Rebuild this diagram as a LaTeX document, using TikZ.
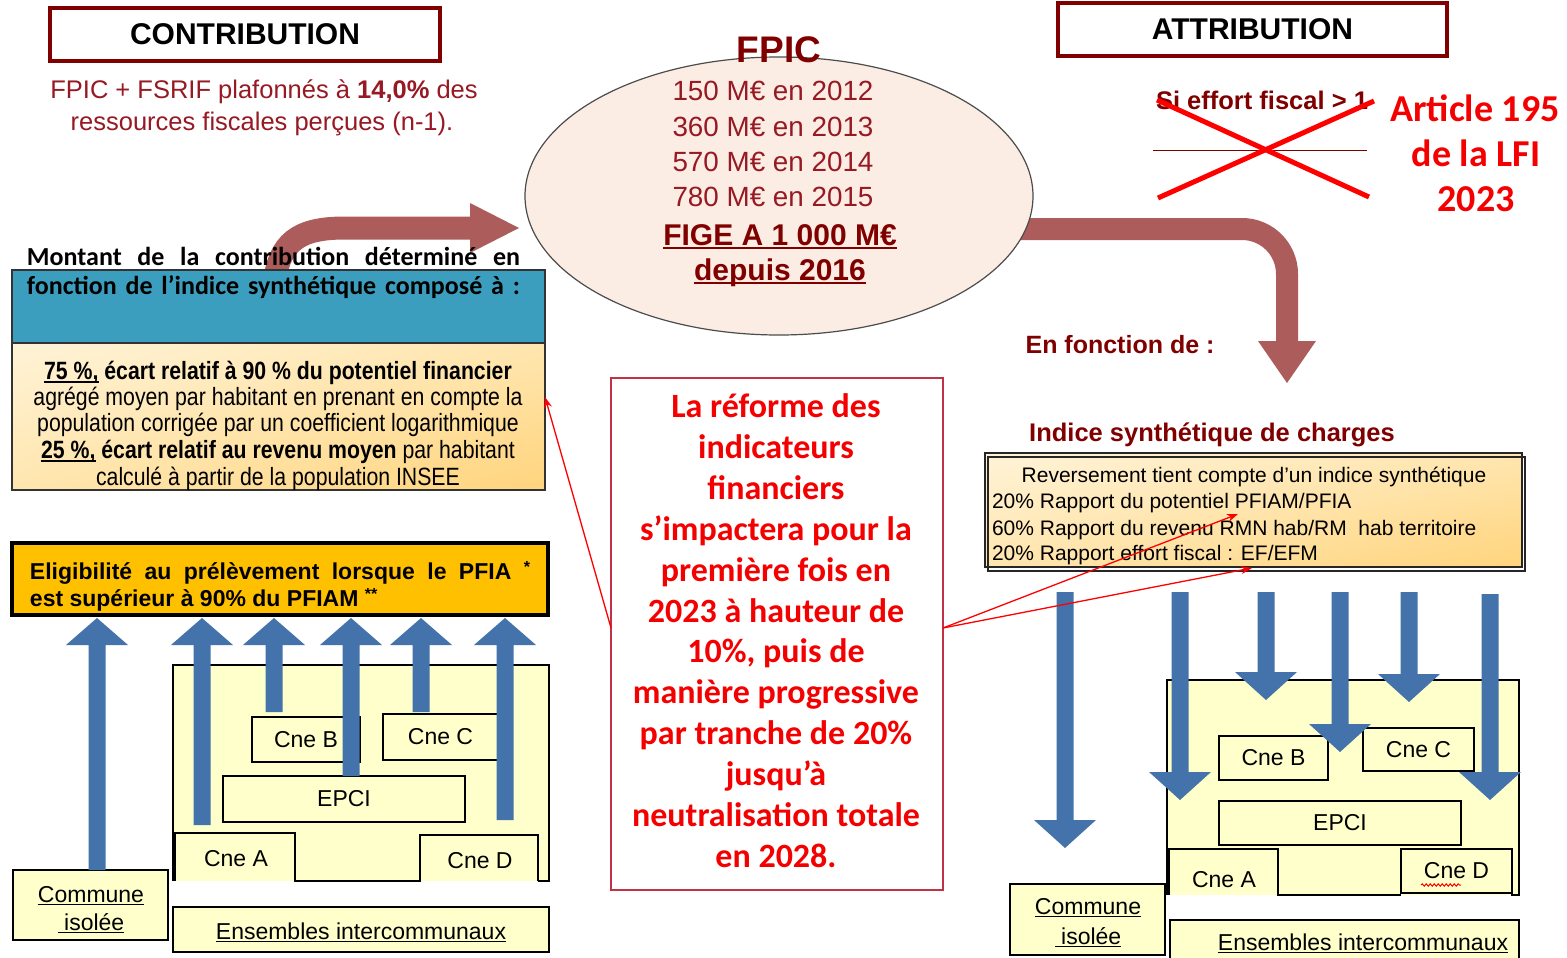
\documentclass[tikz,border=0pt]{standalone}
\usepackage{fontspec}
\setmainfont{Liberation Sans}
\newfontfamily\calib{Carlito}
\newfontfamily\narrowf{Liberation Sans}[FakeStretch=0.85]
\usetikzlibrary{shapes.geometric,arrows.meta,decorations.pathmorphing,shadings}

\definecolor{dred}{RGB}{128,0,0}
\definecolor{tred}{RGB}{150,25,35}
\definecolor{arrowred}{RGB}{173,92,92}
\definecolor{barrow}{RGB}{68,114,170}
\definecolor{lyellow}{RGB}{255,255,204}
\definecolor{eligy}{RGB}{255,192,0}
\definecolor{bluebox}{RGB}{60,158,190}
\definecolor{ellfill}{RGB}{252,237,228}
\definecolor{reformborder}{RGB}{192,50,70}
\definecolor{peachA}{RGB}{255,243,215}
\definecolor{peachB}{RGB}{255,230,175}
\definecolor{peachC}{RGB}{255,212,125}
\definecolor{brightred}{RGB}{245,0,0}

\newcommand{\fsz}[2]{\fontsize{#1pt}{#2pt}\selectfont}
\newsavebox\ulbox
\newcommand{\myul}[1]{\sbox\ulbox{#1}\rlap{\rule[-0.14em]{\wd\ulbox}{0.075em}}\usebox\ulbox}
\newcommand{\uparrowb}[3]{%
 \fill[barrow] ({#1-8.5},#2) -- ({#1-8.5},{#3+27}) -- ({#1-31},{#3+27}) -- (#1,#3) -- ({#1+31},{#3+27}) -- ({#1+8.5},{#3+27}) -- ({#1+8.5},#2) -- cycle;}
\newcommand{\downarrowb}[3]{%
 \fill[barrow] ({#1-8.5},#2) -- ({#1-8.5},{#3-28}) -- ({#1-31},{#3-28}) -- (#1,#3) -- ({#1+31},{#3-28}) -- ({#1+8.5},{#3-28}) -- ({#1+8.5},#2) -- cycle;}

\begin{document}
\begin{tikzpicture}[x=1pt,y=-1pt,
  lbl/.style={inner sep=0, outer sep=0, anchor=base},
  lblw/.style={inner sep=0, outer sep=0, anchor=base west},
  titlebox/.style={draw=dred, line width=3.5, fill=white, inner sep=0, outer sep=0, font=\fsz{30}{34}\bfseries},
  cbox/.style={draw=black, line width=1.4, fill=lyellow, inner sep=0, outer sep=0, font=\fsz{23}{28}},
  cboxtxt/.style={inner sep=0, outer sep=0, font=\fsz{23}{28}},
  bigarr/.style={arrowred, line width=23},
  redarr/.style={red, line width=1.3, -{Stealth[length=11pt,width=8pt]}},
  ellline/.style={lbl, text=tred, font=\fsz{27.8}{30}},
  ellbold/.style={lbl, text=dred, font=\fsz{30}{33}\bfseries},
  reformline/.style={lbl, text=brightred, font=\calib\fsz{34}{40}\bfseries},
  artline/.style={lbl, text=brightred, font=\calib\fsz{38}{44}\bfseries},
  critline/.style={lbl, font=\narrowf\fsz{25}{27}},
  idxline/.style={lblw, font=\fsz{21}{26}},
]
\useasboundingbox (0,0) rectangle (1567,958);
\fill[white] (0,0) rectangle (1567,958);

% ---------- title boxes ----------
\node[titlebox, minimum width=390, minimum height=53] (contrib) at (245,34.5) {CONTRIBUTION};
\node[titlebox, minimum width=389, minimum height=53] (attrib) at (1252.5,29.5) {ATTRIBUTION};

\node[lbl, text=tred, font=\fsz{25.5}{30}] (plaf1) at (264,99) {FPIC + FSRIF plafonnés à \textbf{14,0\%} des};
\node[lbl, text=tred, font=\fsz{25.5}{30}] (plaf2) at (262,130) {ressources fiscales perçues (n-1).};

% ---------- big curved arrows ----------
\coordinate (ca0) at (274,285);
\coordinate (ca1) at (472,228);
\draw[bigarr] (ca0) .. controls (279,242) and (298,228) .. (345,228) -- (ca1);
\fill[arrowred] (470,203) -- (519,228) -- (470,253) -- cycle;

\coordinate (cb0) at (1000,229);
\coordinate (cb1) at (1287,343);
\draw[bigarr, line width=22, rounded corners=45] (cb0) -- (1287,229) -- (cb1);
\fill[arrowred] (1258,341) -- (1316,341) -- (1287,383) -- cycle;

% ---------- ellipse ----------
\node[ellipse, draw=black!70, line width=1.2, fill=ellfill, minimum width=508, minimum height=278, inner sep=0] (ell) at (779,196) {};
\node[lbl, text=dred, font=\fsz{37}{40}\bfseries] (fpic) at (779,63) {FPIC};
\node[ellline] (y12) at (773,100) {150 M€ en 2012};
\node[ellline] (y13) at (773,136) {360 M€ en 2013};
\node[ellline] (y14) at (773,171) {570 M€ en 2014};
\node[ellline] (y15) at (773,206) {780 M€ en 2015};
\node[ellbold] (fige) at (780,245) {\myul{FIGE A 1 000 M€}};
\node[ellbold] (dep) at (780,280) {\myul{depuis 2016}};

% ---------- right top ----------
\node[lbl, text=dred, font=\fsz{25.5}{28}\bfseries] (sieff) at (1262,110) {Si effort fiscal > 1};
\draw[dred, line width=1] (1153,150) -- (1367,150);
\draw[red, line width=5] (1157,100) -- (1369,197);
\draw[red, line width=5] (1158,198) -- (1374,101);
\node[artline] (art1) at (1475,121.5) {Article 195};
\node[artline] (art2) at (1476,166.5) {de la LFI};
\node[artline] (art3) at (1476,211.5) {2023};

\node[lbl, text=dred, font=\fsz{25}{28}\bfseries] (enf) at (1120,353) {En fonction de :};
\node[lbl, text=dred, font=\fsz{25.5}{28}\bfseries] (indt) at (1212,441) {Indice synthétique de charges};

% index box
\node[draw=black!85, line width=1.3, minimum width=537, minimum height=114, inner sep=0, outer sep=0,
      upper left=peachA, upper right=peachB, lower left=peachB, lower right=peachC] (idx) at (1253.5,510) {};
\draw[black!85, line width=1.1] (988,457) rectangle (1525,571);
\node[lbl, font=\fsz{21}{26}] (idx0) at (1254,482) {Reversement tient compte d’un indice synthétique};
\node[idxline] (idx1) at (992,508) {20\% Rapport du potentiel PFIAM/PFIA};
\node[idxline] (idx2) at (992,535) {60\% Rapport du revenu RMN hab/RM\ \ hab territoire};
\node[idxline] (idx3) at (992,560) {20\% Rapport effort fiscal : EF/EFM};
\coordinate (t1) at (1238,514);
\coordinate (t2) at (1252,568);

% ---------- left middle ----------
\node[lblw, font=\calib\fsz{26}{29}\bfseries] (mont1) at (27,265) {\makebox[493pt][s]{Montant de la contribution déterminé en}};
\node[draw=black!80, line width=1.3, fill=bluebox, minimum width=533, minimum height=73, inner sep=0, outer sep=0] (blu) at (278.5,306.5) {};
\node[lblw, font=\calib\fsz{26}{29}\bfseries] (mont2) at (27,294) {\makebox[493pt][s]{fonction de l’indice synthétique composé à :}};

\node[draw=black!80, line width=1.3, minimum width=533, minimum height=147, inner sep=0, outer sep=0,
      upper left=peachA, upper right=peachB, lower left=peachB, lower right=peachC] (crit) at (278.5,416.5) {};
\node[critline] (c1) at (278,379) {\bfseries\myul{75 \%,} écart relatif à 90 \% du potentiel financier};
\node[critline] (c2) at (278,405) {agrégé moyen par habitant en prenant en compte la};
\node[critline] (c3) at (278,431) {population corrigée par un coefficient logarithmique};
\node[critline] (c4) at (278,458) {{\bfseries\myul{25 \%,} écart relatif au revenu moyen} par habitant};
\node[critline] (c5) at (278,485) {calculé à partir de la population INSEE};

\node[draw=black, line width=4, fill=eligy, minimum width=536, minimum height=72, inner sep=0, outer sep=0] (elig) at (280,579) {};
\node[lblw, font=\fsz{23}{27}\bfseries] (el1) at (30,579) {\makebox[500pt][s]{Eligibilité au prélèvement lorsque le PFIA \raisebox{0.3em}{\fsz{16}{16}*}}};
\node[lblw, font=\fsz{23}{27}\bfseries] (el2) at (30,606) {est supérieur à 90\% du PFIAM \raisebox{0.3em}{\fsz{16}{16}**}};

% ---------- reform box ----------
\node[draw=reformborder, line width=1.3, minimum width=332, minimum height=512, inner sep=0, outer sep=0] (reform) at (777,634) {};
\node[reformline] (r1) at (776,417) {La réforme des};
\node[reformline] (r2) at (776,458) {indicateurs};
\node[reformline] (r3) at (776,499) {financiers};
\node[reformline] (r4) at (776,540) {s’impactera pour la};
\node[reformline] (r5) at (776,581) {première fois en};
\node[reformline] (r6) at (776,622) {2023 à hauteur de};
\node[reformline] (r7) at (776,662) {10\%, puis de};
\node[reformline] (r8) at (776,703) {manière progressive};
\node[reformline] (r9) at (776,744) {par tranche de 20\%};
\node[reformline] (r10) at (776,785) {jusqu’à};
\node[reformline] (r11) at (776,826) {neutralisation totale};
\node[reformline] (r12) at (776,867) {en 2028.};

% ---------- bottom left ----------
\node[fill=lyellow, minimum width=376, minimum height=216, inner sep=0, outer sep=0] (ensL) at (361,773) {};
\draw[line width=1.4] (ensL.south west) -- (ensL.north west) -- (ensL.north east) -- (ensL.south east) -- ++(-11,0);
\draw[line width=1.4] (175,881) -- (175,833) -- (295,833) -- (295,881) -- (420,881) -- (420,835) -- (538,835) -- (538,881);
\node[cboxtxt] (cneAl) at (236,859) {Cne A};
\node[cboxtxt] (cneDl) at (480,861) {Cne D};
\node[cbox, minimum width=108, minimum height=45] (cneBl) at (306,739.5) {Cne B};
\node[cbox, minimum width=115, minimum height=46] (cneCl) at (440.5,737) {Cne C};
\node[cbox, minimum width=242, minimum height=46] (epciL) at (344,799) {EPCI};
\node[cbox, minimum width=155, minimum height=70] (comL) at (90.5,905) {};
\node[lbl, font=\fsz{23}{28}] (comL1) at (91,902) {\myul{Commune}};
\node[lbl, font=\fsz{23}{28}] (comL2) at (91,930) {\myul{\ isolée}};
\node[cbox, minimum width=376, minimum height=45] (ensLb) at (361,929.5) {};
\node[lbl, font=\fsz{23}{28}] (ensLt) at (361,939) {\myul{Ensembles intercommunaux}};

\uparrowb{97}{870}{618}
\uparrowb{202}{825}{618}
\uparrowb{274}{712}{618}
\uparrowb{351}{776}{618}
\uparrowb{421}{712}{618}
\uparrowb{505}{820}{618}

% ---------- bottom right ----------
\node[fill=lyellow, minimum width=352, minimum height=215, inner sep=0, outer sep=0] (ensR) at (1343,787.5) {};
\draw[line width=1.4] (ensR.south west) -- (ensR.north west) -- (ensR.north east) -- (ensR.south east) -- ++(-8,0);
\draw[line width=1.4] (1169,895) -- (1169,849) -- (1278,849) -- (1278,895) -- (1401,895);
\node[cboxtxt] (cneAr) at (1224,880) {Cne A};
\node[cbox, minimum width=111, minimum height=44] (cneDr) at (1456.5,871) {Cne D};
\draw[red, line width=1, decorate, decoration={snake, amplitude=1.2pt, segment length=4pt}] (1421,885) -- (1461,885);
\node[cbox, minimum width=109, minimum height=44] (cneBr) at (1273.5,758) {Cne B};
\node[cbox, minimum width=111, minimum height=43] (cneCr) at (1418.5,749.5) {Cne C};
\node[cbox, minimum width=242, minimum height=44] (epciR) at (1340,823) {EPCI};
\node[cbox, minimum width=155, minimum height=71] (comR) at (1087.5,919.5) {};
\node[lbl, font=\fsz{23}{28}] (comR1) at (1088,914) {\myul{Commune}};
\node[lbl, font=\fsz{23}{28}] (comR2) at (1088,944) {\myul{\ isolée}};
\node[cbox, minimum width=349, minimum height=50] (ensRb) at (1344.5,945) {};
\node[lbl, font=\fsz{23}{28}] (ensRt) at (1363,950) {\myul{Ensembles intercommunaux}};

\downarrowb{1065}{592}{848}
\downarrowb{1180}{592}{800}
\downarrowb{1266}{592}{700}
\downarrowb{1340}{592}{752}
\downarrowb{1409}{592}{702}
\downarrowb{1490}{594}{800}

% ---------- thin red arrows ----------
\draw[redarr] ([yshift=6pt]reform.west) -- ([yshift=19.5pt]crit.east);
\draw[redarr] ([yshift=6pt]reform.east) -- (t1);
\draw[redarr] ([yshift=6pt]reform.east) -- (t2);
\end{tikzpicture}
\end{document}
